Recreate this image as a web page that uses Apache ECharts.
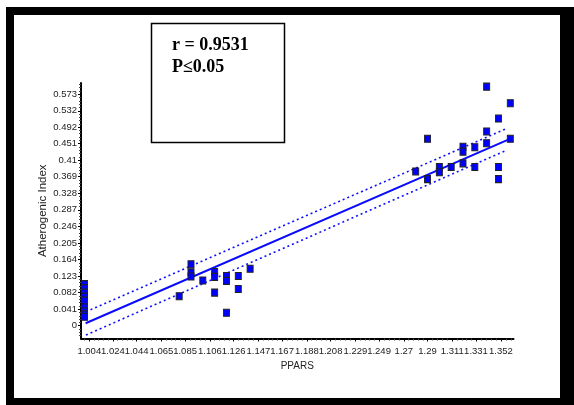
<!DOCTYPE html>
<html><head><meta charset="utf-8">
<script src="https://cdn.jsdelivr.net/npm/echarts@6/dist/echarts.min.js"></script>
<style>html,body{margin:0;padding:0;background:#fff}#c{width:574px;height:405px}</style>
</head><body><div id="c"></div>
<script>
// Tick labels
const xTickLabels = ['1.004','1.024','1.044','1.065','1.085','1.106','1.126','1.147','1.167','1.188','1.208','1.229','1.249','1.27','1.29','1.311','1.331','1.352'];
const yTickLabels = ['0','0.041','0.082','0.123','0.164','0.205','0.246','0.287','0.328','0.369','0.41','0.451','0.492','0.532','0.573'];

// Scatter data (PPARS, Atherogenic Index)
const ppars = [
  1.0,1.0,1.0,1.0,1.0,1.0,1.0,1.0,1.0,
  1.08,1.09,1.09,1.09,1.10,1.11,1.11,1.11,1.12,1.12,1.12,1.13,1.13,1.14,
  1.28,1.29,1.29,1.30,1.30,1.31,1.32,1.32,1.32,1.33,1.33,1.34,1.34,1.34,1.35,1.35,1.35,1.36,1.36
];
const atherogenic = [
  0.103,0.093,0.082,0.072,0.062,0.045,0.035,0.028,0.022,
  0.073,0.152,0.132,0.122,0.112,0.133,0.121,0.082,0.123,0.111,0.032,0.123,0.091,0.141,
  0.382,0.463,0.363,0.393,0.380,0.393,0.443,0.431,0.402,0.442,0.393,0.592,0.481,0.452,0.513,0.393,0.363,0.551,0.463
];

// Regression line and confidence band end points
const fitX = [1.0009, 1.3588];
const fitY = [0.006, 0.4616];
const bandX = [1.0012, 1.3572];
const upperY = [0.0347, 0.4888];
const lowerY = [-0.023, 0.435];

const xMin = 0.997, xMax = 1.3627;
const yMin = -0.0317, yMax = 0.601;

const xMajor = xTickLabels.map(Number);
const yMajor = yTickLabels.map(Number);
function minors(major, lo, hi, n) {
  const out = [];
  const step = (major[1] - major[0]) / n;
  for (let v = major[0] - step; v > lo; v -= step) out.push(v);
  for (let i = 0; i < major.length - 1; i++) {
    const s = (major[i+1] - major[i]) / n;
    for (let k = 1; k < n; k++) out.push(major[i] + k * s);
  }
  const s2 = (major[major.length-1] - major[major.length-2]) / n;
  for (let v = major[major.length-1] + s2; v < hi; v += s2) out.push(v);
  return out;
}
const xMinor = minors(xMajor, xMin, xMax, 5);
const yMinor = minors(yMajor, yMin, yMax, 5);

const sans = "'Liberation Sans',Arial,sans-serif";
const chart = echarts.init(document.getElementById('c'), null, {renderer:'canvas'});
chart.setOption({
  animation: false,
  backgroundColor: '#fff',
  grid: {left: 81, top: 83, width: 432.5, height: 255.5, containLabel: false},
  xAxis: [{
    type: 'value', min: xMin, max: xMax, position: 'bottom',
    name: 'PPARS', nameLocation: 'middle', nameGap: 23, nameMoveOverlap: false,
    nameTextStyle: {fontFamily: sans, fontSize: 10, color: '#222'},
    axisLine: {show: true, onZero: false, lineStyle: {color: '#000', width: 2}},
    axisTick: {show: true, length: 3, customValues: xMajor, lineStyle: {color: '#000'}},
    axisLabel: {show: true, customValues: xMajor, margin: 8, fontFamily: sans, fontSize: 9.5, color: '#222',
      showMinLabel: true, showMaxLabel: true, hideOverlap: false,
      formatter: v => xTickLabels[xMajor.indexOf(v)] },
    splitLine: {show: false}
  }, {
    type: 'value', min: xMin, max: xMax, position: 'bottom', offset: 0,
    axisLine: {show: false, onZero: false}, axisLabel: {show: false}, splitLine: {show: false},
    axisTick: {show: true, length: 2, customValues: xMinor, lineStyle: {color: '#444'}}
  }],
  yAxis: [{
    type: 'value', min: yMin, max: yMax, position: 'left',
    name: 'Atherogenic Index', nameLocation: 'middle', nameGap: 32, nameMoveOverlap: false,
    nameTextStyle: {fontFamily: sans, fontSize: 11.5, color: '#222'},
    axisLine: {show: true, onZero: false, lineStyle: {color: '#000', width: 2}},
    axisTick: {show: true, length: 3, customValues: yMajor, lineStyle: {color: '#000'}},
    axisLabel: {show: true, customValues: yMajor, margin: 4, fontFamily: sans, fontSize: 9.5, color: '#222',
      showMinLabel: true, showMaxLabel: true, hideOverlap: false,
      formatter: v => yTickLabels[yMajor.indexOf(v)] },
    splitLine: {show: false}
  }, {
    type: 'value', min: yMin, max: yMax, position: 'left', offset: 0,
    axisLine: {show: false, onZero: false}, axisLabel: {show: false}, splitLine: {show: false},
    axisTick: {show: true, length: 2, customValues: yMinor, lineStyle: {color: '#444'}}
  }],
  series: [
    {type: 'line', data: bandX.map((x,i)=>[x, upperY[i]]), symbol: 'none', silent: true,
     lineStyle: {color: '#1010ff', width: 1.6, type: [2,3]}},
    {type: 'line', data: bandX.map((x,i)=>[x, lowerY[i]]), symbol: 'none', silent: true,
     lineStyle: {color: '#1010ff', width: 1.6, type: [2,3]}},
    {type: 'line', data: fitX.map((x,i)=>[x, fitY[i]]), symbol: 'none', silent: true,
     lineStyle: {color: '#0a0aff', width: 2}},
    {type: 'scatter', data: ppars.map((x,i)=>[x, atherogenic[i]]), symbol: 'rect', symbolSize: [6,7],
     itemStyle: {color: '#0000ff', borderColor: '#222', borderWidth: 1, opacity: 1}, z: 5}
  ],
  graphic: [
    {type: 'rect', shape: {x: 6, y: 7, width: 8, height: 398}, style: {fill: '#000'}},
    {type: 'rect', shape: {x: 6, y: 7, width: 568, height: 8}, style: {fill: '#000'}},
    {type: 'rect', shape: {x: 560, y: 7, width: 14, height: 398}, style: {fill: '#000'}},
    {type: 'rect', shape: {x: 6, y: 398, width: 568, height: 7}, style: {fill: '#000'}},
    {type: 'rect', shape: {x: 151.5, y: 23.5, width: 133, height: 119}, style: {fill: '#fff', stroke: '#000', lineWidth: 1.5}},
    {type: 'text', x: 172, y: 45, style: {text: 'r = 0.9531', font: "bold 18px 'Liberation Serif','Times New Roman',serif", fill: '#000', verticalAlign: 'middle'}},
    {type: 'text', x: 172, y: 67, style: {text: 'P≤0.05', font: "bold 18px 'Liberation Serif','Times New Roman',serif", fill: '#000', verticalAlign: 'middle'}}
  ]
});
</script></body></html>
